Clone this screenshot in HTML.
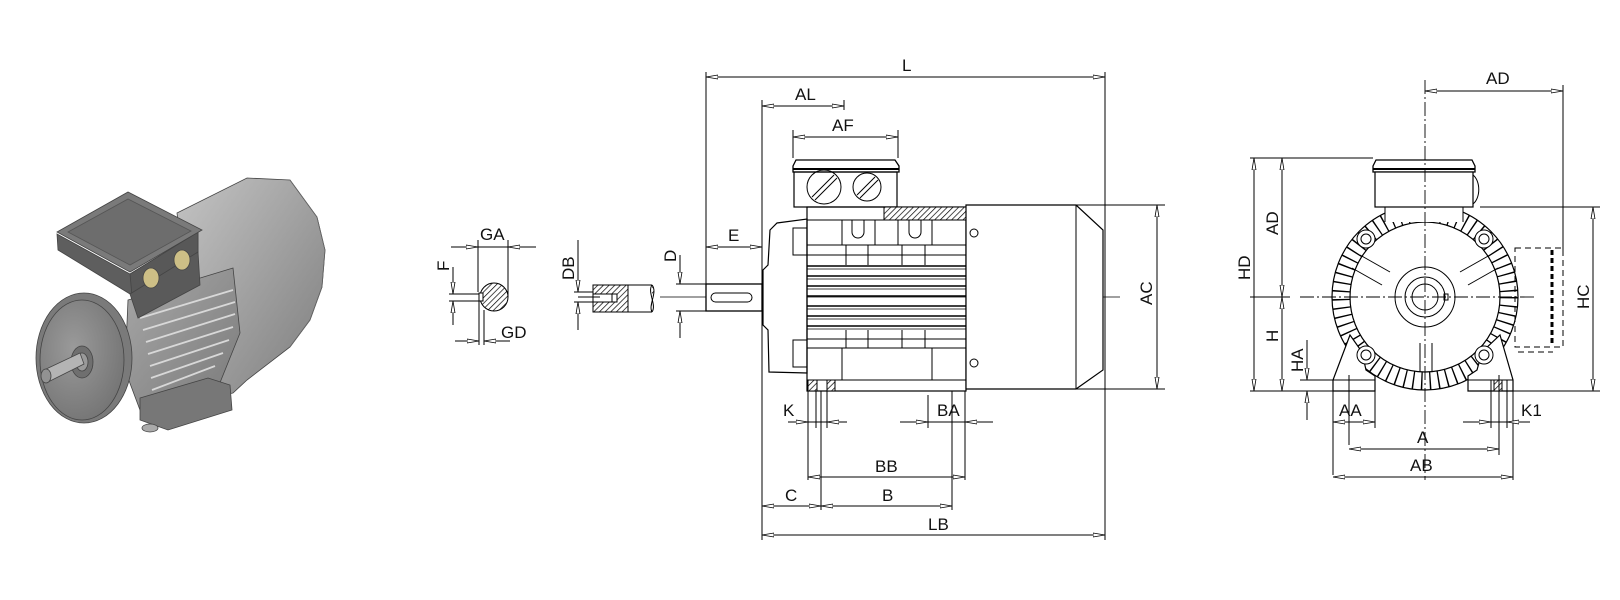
<!DOCTYPE html>
<html><head><meta charset="utf-8"><style>
html,body{margin:0;padding:0;background:#fff;}
svg{display:block;}
text{font-family:"Liberation Sans",sans-serif;font-size:17px;fill:#111;}
</style></head><body>
<svg width="1620" height="600" viewBox="0 0 1620 600" xmlns="http://www.w3.org/2000/svg">
<defs>
<marker id="a" viewBox="0 0 12 6" refX="12" refY="3" markerWidth="12" markerHeight="6" markerUnits="userSpaceOnUse" orient="auto-start-reverse"><path d="M0,1 L12,3 L0,5 Z" fill="#fff" stroke="#000" stroke-width="0.8"/></marker>
<pattern id="h" width="4" height="4" patternUnits="userSpaceOnUse" patternTransform="rotate(45)"><rect width="4" height="4" fill="#fff"/><line x1="0" y1="0" x2="0" y2="4" stroke="#000" stroke-width="1.4"/></pattern>
<linearGradient id="cyl" x1="0" y1="0" x2="1" y2="1"><stop offset="0" stop-color="#c4c4c4"/><stop offset="0.45" stop-color="#a4a4a4"/><stop offset="1" stop-color="#7c7c7c"/></linearGradient>
<linearGradient id="fr" x1="0" y1="0" x2="1" y2="1"><stop offset="0" stop-color="#a8a8a8"/><stop offset="1" stop-color="#7a7a7a"/></linearGradient>
<radialGradient id="disk" cx="0.4" cy="0.4" r="0.7"><stop offset="0" stop-color="#9a9a9a"/><stop offset="1" stop-color="#727272"/></radialGradient>
</defs>

<!-- ============ 3D motor ============ -->
<g stroke="#444" stroke-width="0.8">
<path d="M177,213 L247,178 L290,180 L317,217 L325,250 L322,287 L310,320 L290,347 L247,380 L233,393 L200,400 Z" fill="url(#cyl)"/>
<path d="M290,180 L317,217 L325,250 L322,287 L310,320 L290,347" fill="none" stroke="#666"/>
<path d="M128,300 L233,268 L240,333 L213,400 L140,410 L125,370 Z" fill="url(#fr)"/>
<g stroke="#d8d8d8" stroke-width="1.8">
<line x1="140" y1="318" x2="233" y2="290"/><line x1="143" y1="330" x2="235" y2="302"/><line x1="146" y1="342" x2="235" y2="314"/><line x1="148" y1="354" x2="233" y2="327"/><line x1="150" y1="366" x2="229" y2="340"/><line x1="151" y1="378" x2="223" y2="353"/><line x1="152" y1="390" x2="215" y2="366"/>
</g>
<path d="M140,398 L208,378 L230,385 L232,410 L168,430 L140,420 Z" fill="#777"/>
<ellipse cx="150" cy="428" rx="8" ry="4" fill="#aaa"/>
<ellipse cx="84" cy="358" rx="48" ry="65" fill="#7a7a7a"/>
<ellipse cx="82" cy="360" rx="42" ry="60" fill="url(#disk)"/>
<ellipse cx="82" cy="362" rx="11" ry="16" fill="#6f6f6f"/>
<ellipse cx="82" cy="362" rx="6" ry="9" fill="#9a9a9a"/>
<path d="M44,370 L80,353 L84,364 L48,382 Z" fill="#b4b4b4"/>
<ellipse cx="46" cy="376" rx="5" ry="7" fill="#929292"/>
<path d="M57,234 L130,274 L198,232 L198,252 L130,294 L58,250 Z" fill="#5e5e5e"/>
<path d="M130,274 L198,232 L198,255 L132,296 Z" fill="#585858"/>
<path d="M57,232 L128,192 L202,230 L130,272 Z" fill="#7a7a7a"/>
<path d="M68,232 L128,199 L191,231 L130,265 Z" fill="#6d6d6d" stroke="#555"/>
<path d="M130,294 L198,252 L200,285 L138,318 Z" fill="#5a5a5a"/>
<ellipse cx="151" cy="278" rx="8" ry="10" fill="#cdbf86"/>
<ellipse cx="182" cy="260" rx="8" ry="10" fill="#cdbf86"/>
</g>

<!-- ============ shaft details ============ -->
<g stroke="#000" stroke-width="1" fill="none">
<line x1="478" y1="240" x2="478" y2="292"/><line x1="508" y1="240" x2="508" y2="297"/>
<line x1="451" y1="247" x2="478" y2="247" marker-end="url(#a)"/>
<line x1="536" y1="247" x2="508" y2="247" marker-end="url(#a)"/>
<line x1="478" y1="247" x2="508" y2="247"/>
<circle cx="494" cy="297" r="14" fill="url(#h)"/>
<rect x="479" y="293" width="4" height="8" fill="#fff"/>
<line x1="453" y1="267" x2="453" y2="294" marker-end="url(#a)"/>
<line x1="453" y1="325" x2="453" y2="301" marker-end="url(#a)"/>
<line x1="449" y1="294" x2="479" y2="294"/><line x1="449" y1="301" x2="479" y2="301"/>
<line x1="479" y1="301" x2="479" y2="345"/><line x1="484" y1="310" x2="484" y2="345"/>
<line x1="455" y1="341" x2="479" y2="341" marker-end="url(#a)"/>
<line x1="510" y1="341" x2="484" y2="341" marker-end="url(#a)"/>
<line x1="578" y1="240" x2="578" y2="292" marker-end="url(#a)"/>
<line x1="578" y1="330" x2="578" y2="302" marker-end="url(#a)"/>
<line x1="574" y1="292" x2="594" y2="292"/><line x1="574" y1="302" x2="594" y2="302"/>
<rect x="593" y="285" width="35" height="27" fill="url(#h)"/>
<rect x="593" y="294" width="24" height="8" fill="#fff"/>
<line x1="612" y1="294" x2="612" y2="302"/>
<line x1="628" y1="285" x2="652" y2="285"/><line x1="628" y1="312" x2="652" y2="312"/>
<path d="M652,285 C647,292 657,305 652,312" /><path d="M652,285 C658,292 648,305 652,312" fill="url(#h)"/>
<line x1="578" y1="297" x2="600" y2="297"/>
</g>
<text x="480" y="240">GA</text>
<text x="501" y="338">GD</text>
<text transform="translate(449,271) rotate(-90)">F</text>
<text transform="translate(574,280) rotate(-90)">DB</text>

<!-- ============ side view ============ -->
<g stroke="#000" stroke-width="1" fill="none">
<line x1="706" y1="72" x2="706" y2="284"/>
<line x1="762" y1="100" x2="762" y2="540"/>
<line x1="1105" y1="72" x2="1105" y2="540"/>
<line x1="793" y1="130" x2="793" y2="158"/><line x1="898" y1="130" x2="898" y2="158"/>
<line x1="844" y1="100" x2="844" y2="110"/>
<line x1="706" y1="77" x2="1105" y2="77" marker-start="url(#a)" marker-end="url(#a)"/>
<line x1="762" y1="106" x2="844" y2="106" marker-start="url(#a)" marker-end="url(#a)"/>
<line x1="793" y1="137" x2="898" y2="137" marker-start="url(#a)" marker-end="url(#a)"/>
<line x1="706" y1="247" x2="762" y2="247" marker-start="url(#a)" marker-end="url(#a)"/>
<line x1="680" y1="255" x2="680" y2="284" marker-end="url(#a)"/>
<line x1="680" y1="338" x2="680" y2="311" marker-end="url(#a)"/>
<line x1="676" y1="284" x2="706" y2="284"/><line x1="676" y1="311" x2="706" y2="311"/>
<line x1="660" y1="297" x2="1120" y2="297" stroke-width="0.8"/>
<line x1="1076" y1="205" x2="1165" y2="205"/><line x1="1076" y1="389" x2="1165" y2="389"/>
<line x1="1157" y1="205" x2="1157" y2="389" marker-start="url(#a)" marker-end="url(#a)"/>

<rect x="706" y="284" width="56" height="27" fill="#fff" stroke-width="1.3"/>
<rect x="711" y="293" width="41" height="9" rx="4.5"/>
<path d="M770,230 L777,223 L807,219 L807,373 L769,372 L768,330 L763,325 L763,270 L768,265 Z" stroke-width="1.2" fill="#fff"/>
<rect x="793" y="228" width="14" height="27"/><rect x="793" y="340" width="14" height="27"/>
<path d="M796,160 L895,160 L899,166 L899,172 L793,172 L793,166 Z" stroke-width="1.3"/>
<line x1="793" y1="169" x2="899" y2="169" stroke-width="2"/>
<rect x="794" y="172" width="103" height="35" stroke-width="1.2"/>
<circle cx="824" cy="187" r="17"/><line x1="812" y1="197" x2="834" y2="175"/><line x1="815" y1="200" x2="837" y2="178"/>
<circle cx="867" cy="187" r="14"/><line x1="857" y1="195" x2="875" y2="177"/><line x1="860" y1="198" x2="878" y2="180"/>
<rect x="807" y="207" width="159" height="184" stroke-width="1.2"/>
<rect x="884" y="207" width="82" height="13" fill="url(#h)"/>
<line x1="807" y1="220" x2="966" y2="220"/>
<path d="M842,220 L842,245 L875,245 L875,220 M852,220 L852,232 A6,6 0 0 0 864,232 L864,220"/>
<path d="M898,220 L898,245 L932,245 L932,220 M909,220 L909,232 A6,6 0 0 0 921,232 L921,220"/>
<line x1="807" y1="245" x2="966" y2="245"/><line x1="807" y1="255" x2="966" y2="255"/>
<line x1="846" y1="245" x2="846" y2="265"/><line x1="868" y1="245" x2="868" y2="265"/><line x1="902" y1="245" x2="902" y2="265"/><line x1="925" y1="245" x2="925" y2="265"/>
<g stroke-width="1.6">
<line x1="807" y1="266" x2="966" y2="266"/><line x1="807" y1="276" x2="966" y2="276"/><line x1="807" y1="286" x2="966" y2="286"/><line x1="807" y1="296" x2="966" y2="296"/><line x1="807" y1="306" x2="966" y2="306"/><line x1="807" y1="316" x2="966" y2="316"/><line x1="807" y1="326" x2="966" y2="326"/>
</g>
<g stroke-width="0.7">
<line x1="807" y1="269" x2="966" y2="269"/><line x1="807" y1="279" x2="966" y2="279"/><line x1="807" y1="289" x2="966" y2="289"/><line x1="807" y1="309" x2="966" y2="309"/><line x1="807" y1="319" x2="966" y2="319"/><line x1="807" y1="329" x2="966" y2="329"/>
</g>
<line x1="807" y1="339" x2="966" y2="339"/><line x1="807" y1="348" x2="966" y2="348"/>
<line x1="846" y1="330" x2="846" y2="348"/><line x1="868" y1="330" x2="868" y2="348"/><line x1="902" y1="330" x2="902" y2="348"/><line x1="925" y1="330" x2="925" y2="348"/>
<rect x="842" y="348" width="90" height="32"/>
<line x1="807" y1="380" x2="966" y2="380"/>
<rect x="808" y="380" width="9" height="11" fill="url(#h)"/><rect x="827" y="380" width="8" height="11" fill="url(#h)"/>
<path d="M966,205 L1076,205 L1103,230 L1103,370 L1076,389 L966,389 Z" stroke-width="1.2" fill="#fff"/>
<line x1="1076" y1="205" x2="1076" y2="389"/>
<circle cx="974" cy="233" r="4"/><circle cx="974" cy="363" r="4"/>
<line x1="808" y1="391" x2="808" y2="480"/><line x1="816" y1="391" x2="816" y2="428"/><line x1="821" y1="391" x2="821" y2="510"/><line x1="827" y1="391" x2="827" y2="428"/>
<line x1="928" y1="395" x2="928" y2="428"/><line x1="952" y1="391" x2="952" y2="510"/><line x1="965" y1="391" x2="965" y2="480"/>
<line x1="788" y1="422" x2="808" y2="422" marker-end="url(#a)"/><line x1="808" y1="422" x2="827" y2="422"/>
<line x1="847" y1="422" x2="827" y2="422" marker-end="url(#a)"/>
<line x1="900" y1="422" x2="928" y2="422" marker-end="url(#a)"/><line x1="928" y1="422" x2="965" y2="422"/>
<line x1="993" y1="422" x2="965" y2="422" marker-end="url(#a)"/>
<line x1="808" y1="477" x2="965" y2="477" marker-start="url(#a)" marker-end="url(#a)"/>
<line x1="762" y1="506" x2="821" y2="506" marker-start="url(#a)" marker-end="url(#a)"/>
<line x1="821" y1="506" x2="952" y2="506" marker-start="url(#a)" marker-end="url(#a)"/>
<line x1="762" y1="535" x2="1105" y2="535" marker-start="url(#a)" marker-end="url(#a)"/>
</g>
<text x="902" y="71">L</text>
<text x="795" y="100">AL</text>
<text x="832" y="131">AF</text>
<text x="728" y="241">E</text>
<text transform="translate(676,262) rotate(-90)">D</text>
<text transform="translate(1152,305) rotate(-90)">AC</text>
<text x="783" y="416">K</text>
<text x="937" y="416">BA</text>
<text x="875" y="472">BB</text>
<text x="882" y="501">B</text>
<text x="785" y="501">C</text>
<text x="928" y="530">LB</text>

<!-- ============ front view ============ -->
<g stroke="#000" stroke-width="1" fill="none">
<line x1="1250" y1="158" x2="1373" y2="158"/>
<line x1="1250" y1="391" x2="1333" y2="391"/><line x1="1513" y1="391" x2="1600" y2="391"/>
<line x1="1250" y1="297" x2="1290" y2="297"/>
<line x1="1480" y1="207" x2="1600" y2="207"/>
<line x1="1563" y1="85" x2="1563" y2="250"/>
<line x1="1300" y1="380" x2="1333" y2="380"/>
<line x1="1254" y1="158" x2="1254" y2="391" marker-start="url(#a)" marker-end="url(#a)"/>
<line x1="1282" y1="158" x2="1282" y2="297" marker-start="url(#a)" marker-end="url(#a)"/>
<line x1="1282" y1="297" x2="1282" y2="391" marker-start="url(#a)" marker-end="url(#a)"/>
<line x1="1307" y1="340" x2="1307" y2="380" marker-end="url(#a)"/>
<line x1="1307" y1="420" x2="1307" y2="391" marker-end="url(#a)"/>
<line x1="1425" y1="91" x2="1563" y2="91" marker-start="url(#a)" marker-end="url(#a)"/>
<line x1="1593" y1="207" x2="1593" y2="391" marker-start="url(#a)" marker-end="url(#a)"/>

<circle cx="1425" cy="297" r="84" stroke-width="18" stroke-dasharray="1.4 7" stroke="#000"/>
<circle cx="1425" cy="297" r="93" stroke-width="1.2"/>
<circle cx="1425" cy="297" r="75" fill="#fff" stroke-width="1.2"/>
<path d="M1350,335 L1333,380 L1333,391 L1375,391 L1375,376 L1366,370 L1362,352 Z" fill="#fff" stroke-width="1.2"/>
<path d="M1500,335 L1513,380 L1513,391 L1468,391 L1468,376 L1477,370 L1482,352 Z" fill="#fff" stroke-width="1.2"/>
<line x1="1333" y1="380" x2="1375" y2="380"/><line x1="1468" y1="380" x2="1513" y2="380"/>
<rect x="1494" y="380" width="8" height="11" fill="url(#h)"/>
<line x1="1349" y1="375" x2="1349" y2="445"/><line x1="1333" y1="391" x2="1333" y2="475"/><line x1="1375" y1="391" x2="1375" y2="428"/>
<line x1="1491" y1="380" x2="1491" y2="428"/><line x1="1499" y1="375" x2="1499" y2="455"/><line x1="1507" y1="380" x2="1507" y2="428"/><line x1="1513" y1="391" x2="1513" y2="480"/>
<circle cx="1366" cy="239" r="9" fill="#fff"/><circle cx="1366" cy="239" r="5"/>
<circle cx="1484" cy="239" r="9" fill="#fff"/><circle cx="1484" cy="239" r="5"/>
<circle cx="1366" cy="355" r="9" fill="#fff"/><circle cx="1366" cy="355" r="5"/>
<circle cx="1484" cy="355" r="9" fill="#fff"/><circle cx="1484" cy="355" r="5"/>
<rect x="1385" y="207" width="78" height="15" fill="#fff" stroke="none"/>
<line x1="1385" y1="207" x2="1385" y2="222"/><line x1="1463" y1="207" x2="1463" y2="222"/>
<path d="M1376,160 L1472,160 L1475,166 L1475,172 L1373,172 L1373,166 Z" fill="#fff" stroke-width="1.3"/>
<line x1="1373" y1="169" x2="1475" y2="169" stroke-width="2"/>
<rect x="1375" y="172" width="98" height="35" fill="#fff" stroke-width="1.2"/>
<path d="M1473,175 A10,16 0 0 1 1473,204"/>
<circle cx="1425" cy="297" r="30"/><circle cx="1425" cy="297" r="20"/><circle cx="1425" cy="297" r="13"/>
<rect x="1444" y="294" width="4" height="6"/>
<line x1="1360" y1="255" x2="1390" y2="272"/><line x1="1352" y1="268" x2="1382" y2="285"/>
<line x1="1490" y1="255" x2="1460" y2="272"/><line x1="1498" y1="268" x2="1468" y2="285"/>
<line x1="1420" y1="343" x2="1420" y2="372"/><line x1="1432" y1="343" x2="1432" y2="372"/>
<line x1="1425" y1="80" x2="1425" y2="480" stroke-dasharray="14 3 2 3" stroke-width="0.9"/>
<line x1="1300" y1="297" x2="1535" y2="297" stroke-dasharray="14 3 2 3" stroke-width="0.9"/>
<rect x="1515" y="248" width="48" height="99" stroke-dasharray="6 4"/>
<line x1="1552" y1="250" x2="1552" y2="345" stroke-width="3" stroke-dasharray="5 3"/>
<line x1="1518" y1="352" x2="1553" y2="352" stroke-dasharray="6 4"/>
<line x1="1333" y1="422" x2="1375" y2="422" marker-start="url(#a)" marker-end="url(#a)"/>
<line x1="1349" y1="449" x2="1499" y2="449" marker-start="url(#a)" marker-end="url(#a)"/>
<line x1="1333" y1="477" x2="1513" y2="477" marker-start="url(#a)" marker-end="url(#a)"/>
<line x1="1463" y1="422" x2="1491" y2="422" marker-end="url(#a)"/><line x1="1491" y1="422" x2="1507" y2="422"/>
<line x1="1530" y1="422" x2="1507" y2="422" marker-end="url(#a)"/>
</g>
<text transform="translate(1250,280) rotate(-90)">HD</text>
<text transform="translate(1278,235) rotate(-90)">AD</text>
<text transform="translate(1278,342) rotate(-90)">H</text>
<text transform="translate(1303,372) rotate(-90)">HA</text>
<text x="1486" y="84">AD</text>
<text transform="translate(1589,309) rotate(-90)">HC</text>
<text x="1339" y="416">AA</text>
<text x="1417" y="443">A</text>
<text x="1410" y="471">AB</text>
<text x="1521" y="416">K1</text>
</svg>
</body></html>
